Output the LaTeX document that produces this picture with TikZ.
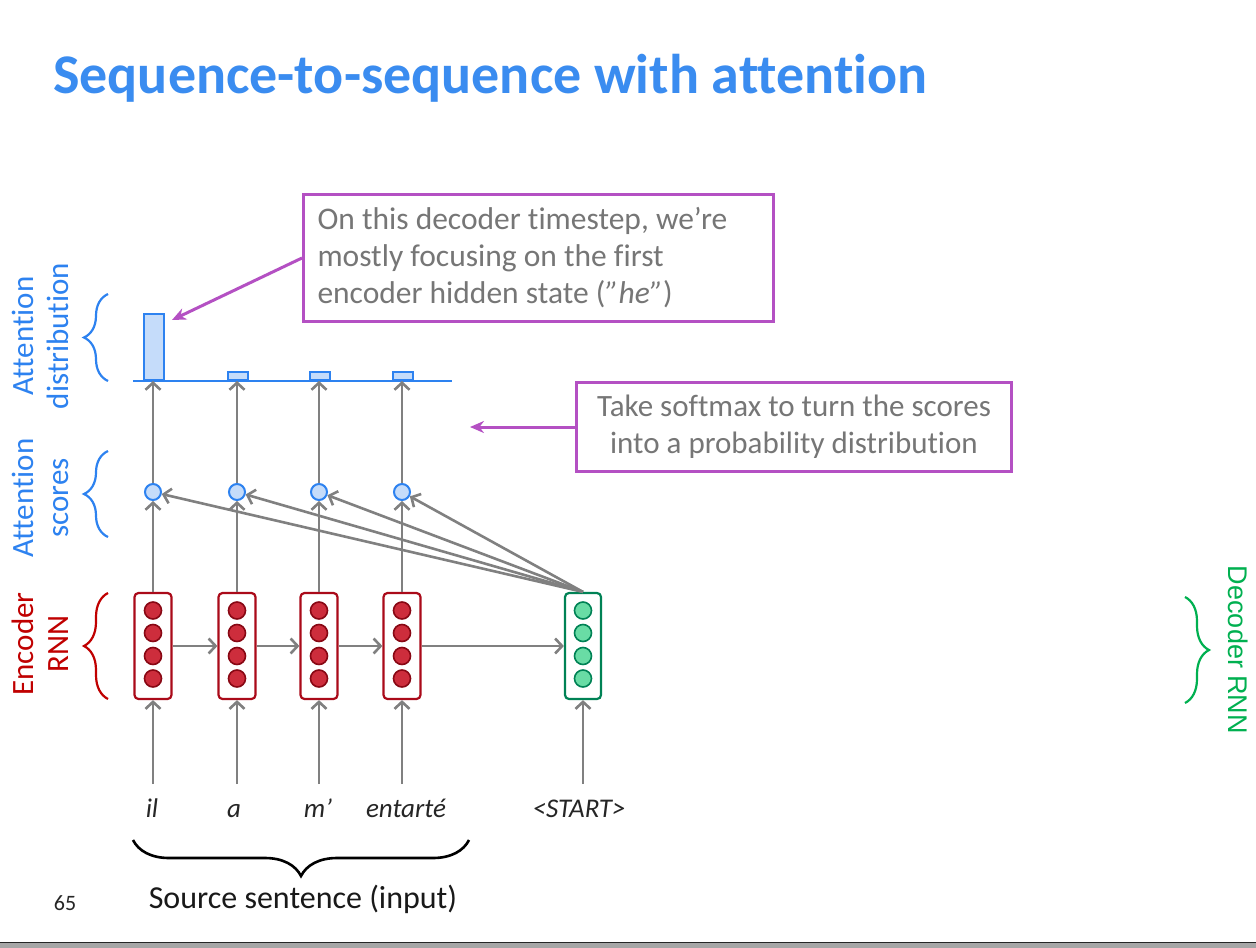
\documentclass[tikz,border=0pt]{standalone}
\usepackage{fontspec}
\setmainfont{Carlito}[Ligatures={NoCommon}]
\newfontfamily\arialfont{Liberation Sans}
\usetikzlibrary{arrows.meta,decorations.pathreplacing,calc}
\definecolor{titleblue}{RGB}{58,140,240}
\definecolor{attblue}{RGB}{45,130,240}
\definecolor{barfill}{RGB}{197,220,250}
\definecolor{encred}{RGB}{170,10,25}
\definecolor{encfill}{RGB}{205,45,60}
\definecolor{decgreen}{RGB}{0,130,85}
\definecolor{decfill}{RGB}{105,220,165}
\definecolor{labgreen}{RGB}{0,176,80}
\definecolor{labred}{RGB}{192,0,0}
\definecolor{arrgray}{RGB}{128,128,128}
\definecolor{callout}{RGB}{180,80,195}
\definecolor{txtgray}{RGB}{118,118,118}
\begin{document}
\begin{tikzpicture}[x=1pt,y=-1pt,
  encbox/.style={draw=encred, line width=2.2pt, rounded corners=4pt, fill=white, minimum width=37pt, minimum height=106pt, inner sep=0pt},
  decbox/.style={draw=decgreen, line width=2.2pt, rounded corners=4pt, fill=white, minimum width=36pt, minimum height=106pt, inner sep=0pt},
  enccirc/.style={circle, draw=encred!80!black, line width=1.6pt, fill=encfill, minimum size=17pt, inner sep=0pt},
  deccirc/.style={circle, draw=decgreen, line width=1.6pt, fill=decfill, minimum size=17pt, inner sep=0pt},
  score/.style={circle, draw=attblue, line width=2pt, fill=barfill, minimum size=16pt, inner sep=0pt},
  bar/.style={draw=attblue, line width=2pt, fill=barfill, minimum width=20pt, inner sep=0pt, anchor=south},
  garrow/.style={draw=arrgray, line width=2.6pt, -{Straight Barb[length=7pt,width=15pt]}},
  parrow/.style={draw=callout, line width=3pt, -{Stealth[length=14pt,width=12pt]}},
  callbox/.style={draw=callout, line width=3pt, text=txtgray, font=\fontsize{31}{37}\selectfont, inner xsep=13pt, inner ysep=0pt},
  sidelab/.style={font=\fontsize{31}{35}\selectfont, align=center, inner sep=0pt},
  word/.style={font=\itshape\fontsize{27}{30}\selectfont, text=black!85, inner sep=0pt, anchor=base},
  bracedeco/.style={decorate, decoration={brace, amplitude=24pt}, line width=2.2pt}
]
\useasboundingbox (0,0) rectangle (1256,948);
\fill[white] (0,0) rectangle (1256,948);
\fill[black!35] (0,942) rectangle (1256,948);
\draw[black!85, line width=1.5pt] (0,942.5) -- (1256,942.5);

% title
\node[anchor=base west, text=titleblue, font=\bfseries\fontsize{56}{64}\selectfont, inner sep=0pt] (title) at (53,93) {Sequence-to-sequence with attention};

% encoder
\foreach \i/\x in {1/153,2/237,3/319,4/402}{
  \node[encbox] (e\i) at (\x,646) {};
  \foreach \j/\y in {1/610.5,2/633,3/656,4/678.5}{
    \node[enccirc] (e\i c\j) at (\x,\y) {};
  }
  \node[score] (s\i) at (\x,492) {};
}
% decoder
\node[decbox] (d) at (583,646) {};
\foreach \j/\y in {1/610.5,2/633,3/656,4/678.5}{
  \node[deccirc] (dc\j) at (583,\y) {};
}

% bars
\node[bar, minimum height=66pt] (b1) at (154,381) {};
\node[bar, minimum height=8pt] (b2) at (237.5,381) {};
\node[bar, minimum height=8pt] (b3) at (319.5,381) {};
\node[bar, minimum height=8pt] (b4) at (402.5,381) {};
\coordinate (bl) at (133,381);
\coordinate (br) at (452,381);
\draw[attblue, line width=2pt] (bl) -- (br);

% words
\node[word] (w1) at (152,817) {il};
\node[word] (w2) at (234,817) {a};
\node[word] (w3) at (318,817) {m’};
\node[word] (w4) at (406,817) {entarté};
\node[word] (w5) at (579,817) {<START>};

% arrows
\foreach \i/\x in {1/153,2/237,3/319,4/402}{
  \coordinate (in\i) at (\x,784);
  \draw[garrow] (in\i) -- (e\i.south);
  \draw[garrow] (e\i.north) -- (s\i.south);
  \coordinate (top\i) at (\x,381);
  \draw[garrow] (s\i.north) -- (top\i);
}
\coordinate (in5) at (583,784);
\draw[garrow] (in5) -- (d.south);
\draw[garrow] (e1.east) -- (e2.west);
\draw[garrow] (e2.east) -- (e3.west);
\draw[garrow] (e3.east) -- (e4.west);
\draw[garrow] (e4.east) -- (d.west);
\foreach \i in {1,...,4}{
  \draw[garrow] (d.north) -- (s\i);
}

% callouts
\node[callbox, font=\fontsize{31.5}{37}\selectfont, anchor=north west, minimum width=470pt, minimum height=127pt, text width=442pt, align=flush left] (c1) at (302,193)
  {On this decoder timestep, we’re\\mostly focusing on the first\\encoder hidden state (\textit{”he”})};
\node[callbox, anchor=north west, minimum width=435pt, minimum height=89pt, align=center] (c2) at (575,381)
  {Take softmax to turn the scores\\into a probability distribution};
\coordinate (bartip) at (172,320);
\coordinate (softtip) at ($(c2.west)+(-105,0)$);
\draw[parrow] (c1.west) -- (bartip);
\draw[parrow] (c2.west) -- (softtip);

% braces
\draw[bracedeco, attblue] (108,381) -- (108,294);
\draw[bracedeco, attblue] (108,537) -- (108,451);
\draw[bracedeco, labred] (108,699) -- (108,593);
\draw[bracedeco, labgreen] (1185,597) -- (1185,703);
\draw[decorate, decoration={brace, amplitude=36pt}, line width=2.6pt, black] (469,840) -- (133,840);

% side labels
\node[sidelab, text=attblue, rotate=90] (lab1) at (40,336) {Attention\\distribution};
\node[sidelab, text=attblue, rotate=90] (lab2) at (40,498) {Attention\\scores};
\node[sidelab, text=labred, rotate=90] (lab3) at (40,644) {Encoder\\RNN};
\node[font=\arialfont\fontsize{27}{32}\selectfont, text=labgreen, rotate=-90, inner sep=0pt] (lab4) at (1238,650) {Decoder RNN};

% bottom texts
\node[font=\fontsize{32}{36}\selectfont, text=black!90, inner sep=0pt] (src) at (303,899) {Source sentence (input)};
\node[font=\fontsize{22}{26}\selectfont, text=black!85, inner sep=0pt] (pg) at (65,903) {65};
\end{tikzpicture}
\end{document}
